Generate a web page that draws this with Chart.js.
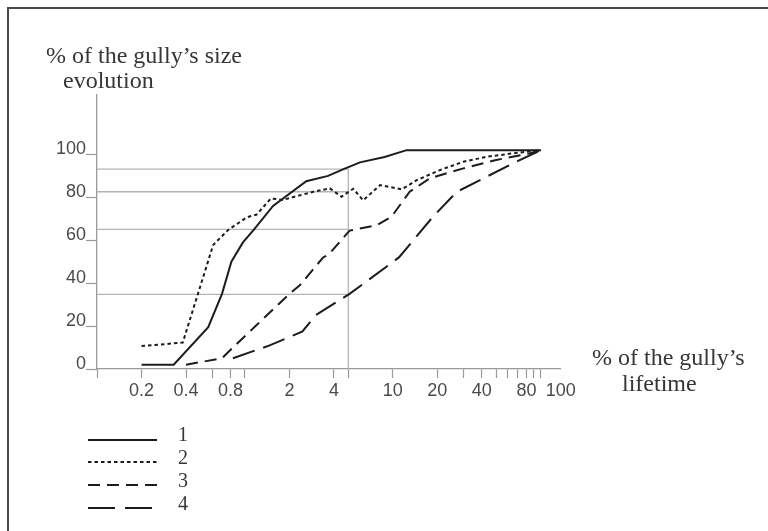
<!DOCTYPE html>
<html>
<head>
<meta charset="utf-8">
<script src="https://cdn.jsdelivr.net/npm/chart.js@4.4.1/dist/chart.umd.min.js"></script>
<style>
html,body{margin:0;padding:0;background:#fff;}
#wrap{position:relative;width:768px;height:531px;overflow:hidden;background:#fff;}
#frame{position:absolute;left:7px;top:7px;width:800px;height:600px;border-top:2px solid #4a4a4a;border-left:2px solid #4a4a4a;}
canvas{position:absolute;left:0;top:0;}
</style>
</head>
<body>
<div id="wrap"><div id="frame"></div><canvas id="c" width="768" height="531"></canvas></div>
<script>
// ---- data ----
const seriesNames = ['1', '2', '3', '4'];

const s1X = [0.2, 0.33, 0.565, 0.7, 0.81, 0.97, 1.15, 1.55, 2.6, 3.65, 4.6, 6, 8.8, 12.4, 100];
const s1Y = [2, 2, 19.5, 35, 50, 59, 65, 76, 87.5, 90, 93, 96.3, 98.8, 102, 102];

const s2X = [0.2, 0.38, 0.61, 0.77, 1.03, 1.2, 1.5, 1.8, 2.9, 3.75, 4.5, 5.4, 6.3, 8.2, 11.5, 14.5, 20.8, 30, 43, 65, 100];
const s2Y = [10.7, 12.3, 57.8, 64.8, 70.7, 72, 79.5, 78.8, 82.6, 84.2, 80.3, 84, 78.6, 85.7, 83.7, 88, 92.7, 96.6, 98.9, 100.5, 102];

const s3X = [0.4, 0.7, 0.83, 1.2, 2.0, 2.35, 3.38, 3.7, 5.1, 7.8, 9.8, 13, 17.8, 30, 50, 84, 100];
const s3Y = [2, 5, 10, 20.5, 35, 39, 52, 53.5, 64.5, 67, 71, 82.6, 88.9, 93.5, 97.4, 100.5, 102];

const s4X = [0.83, 1.47, 2.45, 3.0, 5.1, 11, 18.7, 27, 43, 68, 100];
const s4Y = [5, 11, 17.5, 25, 35, 52, 71, 82.5, 89.6, 96.5, 102];

// reference lines (where the curves cross x = 5)
const refX = 5;
const refY = [93.2, 82.6, 65.1, 34.8];

const xTickValues = [0.1, 0.2, 0.4, 0.6, 0.8, 1, 2, 4, 5, 10, 20, 30, 40, 50, 60, 70, 80, 90, 100];
const xTickLabels = ['', '0.2', '0.4', '', '0.8', '', '2', '4', '', '10', '20', '', '40', '', '', '', '80', '', '100'];
const yTickValues = [0, 20, 40, 60, 80, 100];
const yTickLabels = ['0', '20', '40', '60', '80', '100'];

const yTitle = ['% of the gully\u2019s size', 'evolution'];
const xTitle = ['% of the gully\u2019s', 'lifetime'];

// ---- build ----
const pts = (xs, ys) => xs.map((x, i) => ({x: x, y: ys[i]}));
const INK = '#1c1c1c';
const GRID = '#b4b4b4';

const series = [
  {label: seriesNames[0], data: pts(s1X, s1Y), borderDash: []},
  {label: seriesNames[1], data: pts(s2X, s2Y), borderDash: [3.5, 3]},
  {label: seriesNames[2], data: pts(s3X, s3Y), borderDash: [12, 7]},
  {label: seriesNames[3], data: pts(s4X, s4Y), borderDash: [23, 9]}
].map(d => Object.assign(d, {borderColor: INK, borderWidth: 2, pointRadius: 0, tension: 0, fill: false, order: 0}));

const refSets = refY.map(y => ({
  label: 'ref', data: [{x: 0.1, y: y}, {x: refX, y: y}],
  borderColor: GRID, borderWidth: 1.3, pointRadius: 0, order: 2
}));
refSets.push({label: 'ref', data: [{x: refX, y: 0}, {x: refX, y: Math.max(...refY)}],
  borderColor: GRID, borderWidth: 1.3, pointRadius: 0, order: 2});

const textPlugin = {
  id: 'texts',
  afterDraw(chart) {
    const ctx = chart.ctx;
    ctx.save();
    ctx.fillStyle = '#363636';
    ctx.textAlign = 'left';
    ctx.textBaseline = 'alphabetic';
    ctx.font = '24px "Liberation Serif", "Times New Roman", serif';
    ctx.fillText(yTitle[0], 46, 63);
    ctx.fillText(yTitle[1], 63, 88);
    ctx.fillText(xTitle[0], 592, 365);
    ctx.fillText(xTitle[1], 622, 391);
    // legend
    const lineY = [440, 462, 485, 508];
    const textY = [441, 464, 487, 510];
    const lineEnd = [157, 157, 158, 150];
    ctx.font = '20px "Liberation Serif", "Times New Roman", serif';
    series.forEach((ds, i) => {
      ctx.strokeStyle = ds.borderColor;
      ctx.lineWidth = 2.2;
      ctx.setLineDash(i === 3 ? [27, 10] : ds.borderDash);
      ctx.beginPath();
      ctx.moveTo(88, lineY[i]);
      ctx.lineTo(lineEnd[i] + (i === 3 ? 2 : 0), lineY[i]);
      ctx.stroke();
      ctx.fillText(ds.label, 178, textY[i]);
    });
    ctx.restore();
  }
};

const tickFont = {family: '"Liberation Sans", Arial, sans-serif', size: 18};

new Chart(document.getElementById('c'), {
  type: 'line',
  data: {datasets: refSets.concat(series)},
  options: {
    responsive: false,
    animation: false,
    devicePixelRatio: 1,
    layout: {padding: {top: 95, left: 0, right: 208, bottom: 100}},
    plugins: {legend: {display: false}, tooltip: {enabled: false}},
    scales: {
      x: {
        type: 'logarithmic', min: 0.1, max: 135,
        afterBuildTicks: s => { s.ticks = xTickValues.map(v => ({value: v})); },
        afterFit: s => { s.height = 62; },
        grid: {drawOnChartArea: false, drawTicks: true, tickLength: 9, tickColor: '#9a9a9a', tickWidth: 1.2},
        border: {display: true, color: '#9a9a9a', width: 1.3},
        ticks: {
          autoSkip: false, maxRotation: 0, minRotation: 0, padding: 2, color: '#4a4a4a', font: tickFont,
          callback: (v, i) => (i === xTickLabels.length - 1 ? '        ' : '') + xTickLabels[i]
        }
      },
      y: {
        type: 'linear', min: 0, max: 127.7,
        afterBuildTicks: s => { s.ticks = yTickValues.map(v => ({value: v})); },
        afterFit: s => { s.width = 97; },
        grid: {drawOnChartArea: false, drawTicks: true, tickLength: 11, tickColor: '#9a9a9a', tickWidth: 1.2},
        border: {display: true, color: '#9a9a9a', width: 1.3},
        ticks: {padding: 0, labelOffset: -5, color: '#4a4a4a', font: tickFont, callback: (v, i) => yTickLabels[i]}
      }
    }
  },
  plugins: [textPlugin]
});
</script>
</body>
</html>
